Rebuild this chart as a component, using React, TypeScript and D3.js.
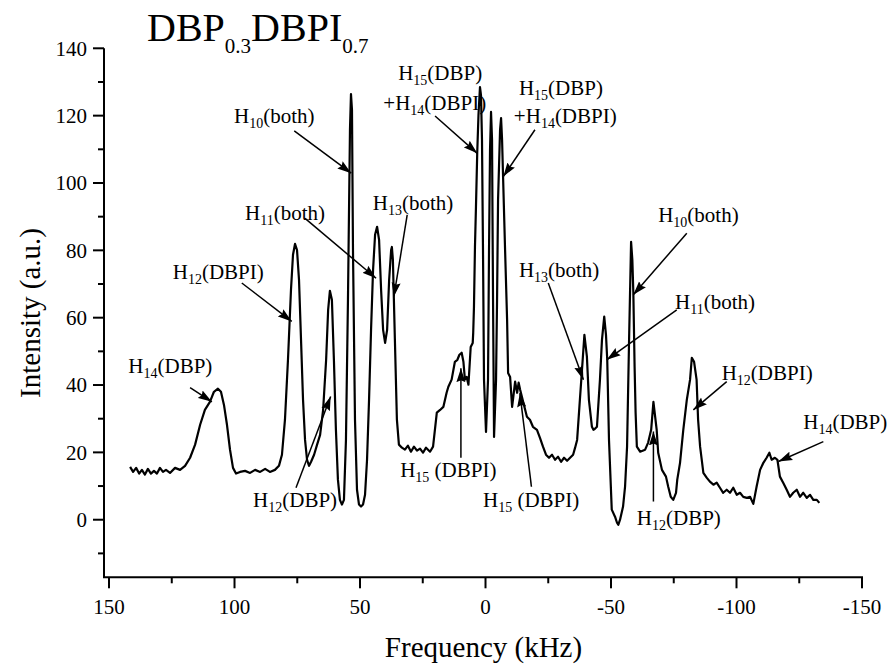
import React from "react";
import * as d3 from "d3";

const spectrum: [number, number][] = [
  [141.6,15.7],[140.4,14.2],[139.2,15.4],[138.0,13.7],[136.9,14.8],[135.7,13.4],[134.5,15.1],[133.3,13.7],[132.1,14.5],[130.9,13.7],[129.7,15.4],[128.5,14.2],[127.3,14.8],[125.7,13.9],[123.7,15.4],[121.7,14.8],[119.7,16.0],[117.7,18.4],[115.7,22.3],[113.7,28.2],[111.8,32.6],[109.8,35.0],[108.2,38.0],[106.6,38.9],[105.4,38.0],[104.2,34.1],[103.0,28.2],[101.8,20.8],[100.6,15.4],[99.4,13.7],[97.8,14.2],[95.8,14.5],[93.8,13.9],[91.8,14.8],[89.8,14.2],[87.8,15.1],[85.9,14.2],[83.9,14.8],[82.3,16.0],[81.1,19.3],[79.9,29.7],[78.7,47.5],[77.5,68.3],[76.7,78.7],[75.9,81.9],[75.1,80.1],[74.3,71.2],[73.5,53.4],[72.7,35.6],[71.9,23.7],[71.1,17.8],[70.3,16.0],[69.5,17.2],[68.3,19.3],[67.1,22.3],[65.9,25.2],[64.7,32.6],[63.5,47.5],[62.7,62.3],[62.0,68.0],[61.2,65.3],[60.4,47.5],[59.6,26.7],[58.8,11.9],[58.0,5.9],[57.2,4.5],[56.4,5.9],[55.6,23.7],[54.8,65.3],[54.0,115.8],[53.6,126.4],[53.2,121.7],[52.8,80.1],[52.0,29.7],[51.2,8.9],[50.4,4.5],[49.6,3.9],[48.8,4.5],[48.0,7.4],[47.2,17.8],[46.4,35.6],[45.6,56.4],[44.8,74.2],[44.0,84.6],[43.2,87.0],[42.4,83.1],[41.6,68.3],[40.8,56.4],[40.0,52.5],[39.2,56.4],[38.4,71.2],[37.6,80.1],[37.3,81.0],[36.9,77.2],[36.1,53.4],[35.3,29.7],[34.5,22.3],[33.3,21.4],[32.1,20.8],[30.9,22.0],[29.7,20.2],[28.5,21.7],[27.3,20.5],[26.1,21.1],[24.9,19.9],[23.7,21.4],[22.1,20.2],[20.9,21.7],[19.4,31.8],[18.1,32.6],[16.8,33.5],[15.5,37.7],[14.8,39.5],[13.5,41.6],[12.2,46.9],[11.2,47.5],[10.4,49.0],[9.5,49.6],[8.8,46.9],[8.2,41.6],[7.5,42.4],[6.8,40.1],[5.9,51.3],[5.1,52.5],[4.9,55.5],[4.6,63.2],[4.2,81.0],[3.8,92.9],[3.3,108.9],[2.8,120.2],[2.2,128.5],[1.8,126.1],[1.4,112.8],[1.0,80.1],[0.6,41.6],[-0.2,26.1],[-1.0,41.6],[-1.4,80.1],[-1.8,109.8],[-2.2,121.1],[-2.6,112.8],[-3.0,65.3],[-3.4,24.6],[-4.2,41.6],[-4.6,65.3],[-5.0,95.0],[-5.8,115.8],[-6.2,119.3],[-6.6,112.8],[-7.0,101.8],[-7.8,80.1],[-8.6,59.4],[-9.0,43.6],[-9.8,42.4],[-10.6,33.5],[-11.8,41.0],[-12.6,37.7],[-13.2,40.7],[-13.8,38.6],[-14.5,36.5],[-15.1,34.7],[-16.5,30.6],[-17.7,29.7],[-18.9,27.6],[-20.5,26.7],[-21.7,24.3],[-22.9,21.7],[-24.1,19.3],[-25.3,18.4],[-26.5,19.3],[-27.7,17.8],[-28.9,18.7],[-30.1,17.2],[-31.3,18.4],[-32.5,17.5],[-33.7,18.4],[-34.9,19.3],[-35.7,21.4],[-36.5,23.7],[-37.6,35.6],[-38.8,48.4],[-39.4,54.9],[-40.4,48.4],[-41.2,35.6],[-42.4,27.6],[-43.0,26.7],[-43.6,27.0],[-44.4,27.6],[-45.6,41.6],[-46.4,53.4],[-47.3,60.3],[-48.0,54.9],[-48.5,47.5],[-49.2,23.7],[-50.3,3.0],[-51.6,0.9],[-52.4,-0.9],[-52.9,-1.5],[-53.6,0],[-54.8,3.9],[-55.6,9.8],[-56.4,21.7],[-57.2,53.4],[-58.0,82.5],[-58.5,77.2],[-58.9,67.4],[-59.4,45.4],[-59.8,31.8],[-60.3,21.7],[-61.6,20.2],[-63.6,20.8],[-64.8,22.9],[-66.0,26.7],[-66.9,35.0],[-68.2,26.7],[-68.8,19.9],[-70.3,14.8],[-71.9,12.8],[-72.8,9.8],[-73.8,6.8],[-74.8,5.9],[-75.9,8.0],[-76.4,11.9],[-77.5,16.9],[-78.8,26.7],[-80.2,35.6],[-81.5,41.6],[-82.2,48.1],[-83.1,46.9],[-84.1,41.6],[-84.7,29.7],[-85.5,21.7],[-86.8,13.9],[-88.1,12.5],[-89.4,11.3],[-90.8,10.4],[-92.1,11.0],[-93.4,9.5],[-94.7,8.0],[-96.1,8.9],[-97.4,8.0],[-98.7,9.5],[-100.1,7.4],[-101.4,8.0],[-102.7,6.8],[-104.1,6.5],[-105.4,6.8],[-106.7,4.7],[-108.0,9.8],[-109.4,14.8],[-110.7,16.9],[-112.0,18.4],[-113.1,19.9],[-114.0,17.8],[-115.3,18.4],[-116.3,17.8],[-117.3,12.8],[-118.6,11.0],[-120.0,8.9],[-121.3,6.8],[-122.6,8.0],[-124.0,8.9],[-125.3,6.8],[-126.6,8.0],[-128.0,6.5],[-129.3,7.4],[-130.6,5.9],[-132.0,5.9],[-133.0,5.0]
];

const xMajorTicks = [150, 100, 50, 0, -50, -100, -150];
const xMinorTicks = [125, 75, 25, -25, -75, -125];
const yMajorTicks = [0, 20, 40, 60, 80, 100, 120, 140];
const yMinorTicks = [-10, 10, 30, 50, 70, 90, 110, 130];

// label: [pre, sub, post, freq, intensity]
const labels: [string, string, string, number, number][] = [
  ["H", "10", "(both)", 100.2, 117.8],
  ["H", "11", "(both)", 95.8, 89.0],
  ["H", "12", "(DBPI)", 124.6, 71.4],
  ["H", "14", "(DBP)", 142.3, 43.5],
  ["H", "12", "(DBP)", 92.6, 3.9],
  ["H", "13", "(both)", 44.9, 92.0],
  ["H", "15", "(DBP)", 34.8, 130.6],
  ["+H", "14", "(DBPI)", 40.7, 121.7],
  ["H", "15", "(DBP)", -13.3, 126.1],
  ["+H", "14", "(DBPI)", -11.3, 117.7],
  ["H", "15", " (DBPI)", 34.0, 12.8],
  ["H", "15", " (DBPI)", 1.0, 3.9],
  ["H", "13", "(both)", -13.3, 72.2],
  ["H", "10", "(both)", -68.8, 88.5],
  ["H", "11", "(both)", -75.5, 62.5],
  ["H", "12", "(DBPI)", -94.1, 41.6],
  ["H", "14", "(DBP)", -126.6, 26.9],
  ["H", "12", "(DBP)", -60.3, -1.5],
];

// arrows: [fromFreq, fromInt, toFreq, toInt]
const arrows: [number, number, number, number][] = [
  [76.2, 115.5, 53.5, 102.9],
  [71.9, 89.5, 43.6, 71.7],
  [97.1, 70.3, 77.2, 58.9],
  [117.7, 39.2, 109.0, 35.0],
  [75.5, 9.5, 61.7, 36.6],
  [31.2, 90.5, 36.5, 66.3],
  [20.1, 119.9, 3.3, 108.8],
  [-19.7, 115.8, -7.1, 101.9],
  [9.8, 18.4, 9.8, 45.0],
  [-18.3, 9.8, -13.7, 37.6],
  [-25.0, 70.3, -39.0, 41.6],
  [-80.2, 85.1, -58.9, 66.8],
  [-76.2, 62.3, -48.3, 47.5],
  [-96.1, 41.0, -82.8, 32.6],
  [-134.6, 23.2, -116.7, 17.3],
  [-66.9, 5.4, -66.9, 26.2],
];

const titleParts = ["DBP", "0.3", "DBPI", "0.7"];
const xTitle = "Frequency (kHz)";
const yTitle = "Intensity (a.u.)";

const W = 887;
const H = 664;
const FONT = "Liberation Serif";

export default function App() {
  const x = d3.scaleLinear().domain([152, -150.4]).range([104, 863]);
  const y = d3.scaleLinear().domain([-17.1, 140]).range([577.3, 48.3]);
  const line = d3
    .line<[number, number]>()
    .x((d) => x(d[0]))
    .y((d) => y(d[1]));

  const x0 = x.range()[0];
  const y0 = y.range()[0];

  return (
    <div style={{ position: "absolute", left: 0, top: 0 }}>
      <svg width={W} height={H} style={{ display: "block", background: "#fff" }}>
        <defs>
          <marker
            id="ah"
            markerUnits="userSpaceOnUse"
            markerWidth={15}
            markerHeight={10}
            refX={14}
            refY={5}
            orient="auto"
          >
            <path d="M0,0.5 L14,5 L0,9.5 L2,5 Z" fill="#000" />
          </marker>
        </defs>

        {/* title */}
        <text x={147} y={41} fontSize={40} fontFamily={FONT} fill="#000">
          <tspan>{titleParts[0]}</tspan>
          <tspan fontSize={21} dy={12}>{titleParts[1]}</tspan>
          <tspan fontSize={40} dy={-12}>{titleParts[2]}</tspan>
          <tspan fontSize={21} dy={12}>{titleParts[3]}</tspan>
        </text>

        {/* axes */}
        <line x1={x0} x2={x0} y1={y.range()[1]} y2={y0} stroke="#000" strokeWidth={2} />
        <line x1={x0 - 1} x2={x.range()[1]} y1={y0} y2={y0} stroke="#000" strokeWidth={2} />

        {yMajorTicks.map((t) => (
          <g key={"ym" + t}>
            <line x1={x0 - 11} x2={x0} y1={y(t)} y2={y(t)} stroke="#000" strokeWidth={2} />
            <text x={x0 - 17} y={y(t)} dy="0.35em" textAnchor="end" fontSize={21} fontFamily={FONT} fill="#000">
              {t}
            </text>
          </g>
        ))}
        {yMinorTicks.map((t) => (
          <line key={"yn" + t} x1={x0 - 6} x2={x0} y1={y(t)} y2={y(t)} stroke="#000" strokeWidth={2} />
        ))}
        {xMajorTicks.map((t) => (
          <g key={"xm" + t}>
            <line x1={x(t)} x2={x(t)} y1={y0} y2={y0 + 11} stroke="#000" strokeWidth={2} />
            <text x={x(t)} y={y0 + 37} textAnchor="middle" fontSize={21} fontFamily={FONT} fill="#000">
              {t}
            </text>
          </g>
        ))}
        {xMinorTicks.map((t) => (
          <line key={"xn" + t} x1={x(t)} x2={x(t)} y1={y0} y2={y0 + 6} stroke="#000" strokeWidth={2} />
        ))}

        <text x={(x.range()[0] + x.range()[1]) / 2} y={657} textAnchor="middle" fontSize={29} fontFamily={FONT} fill="#000">
          {xTitle}
        </text>
        <text
          transform={`translate(40, 313) rotate(-90)`}
          textAnchor="middle"
          fontSize={29}
          fontFamily={FONT}
          fill="#000"
        >
          {yTitle}
        </text>

        {/* spectrum */}
        <path d={line(spectrum) || ""} fill="none" stroke="#000" strokeWidth={2.2} strokeLinejoin="round" />

        {/* arrows */}
        {arrows.map((a, i) => (
          <line
            key={"ar" + i}
            x1={x(a[0])}
            y1={y(a[1])}
            x2={x(a[2])}
            y2={y(a[3])}
            stroke="#000"
            strokeWidth={1.5}
            markerEnd="url(#ah)"
          />
        ))}

        {/* labels */}
        {labels.map((l, i) => (
          <text key={"lb" + i} x={x(l[3])} y={y(l[4])} fontSize={21} fontFamily={FONT} fill="#000" xmlSpace="preserve">
            <tspan>{l[0]}</tspan>
            <tspan fontSize={14} dy={5}>{l[1]}</tspan>
            <tspan fontSize={21} dy={-5}>{l[2]}</tspan>
          </text>
        ))}
      </svg>
    </div>
  );
}
